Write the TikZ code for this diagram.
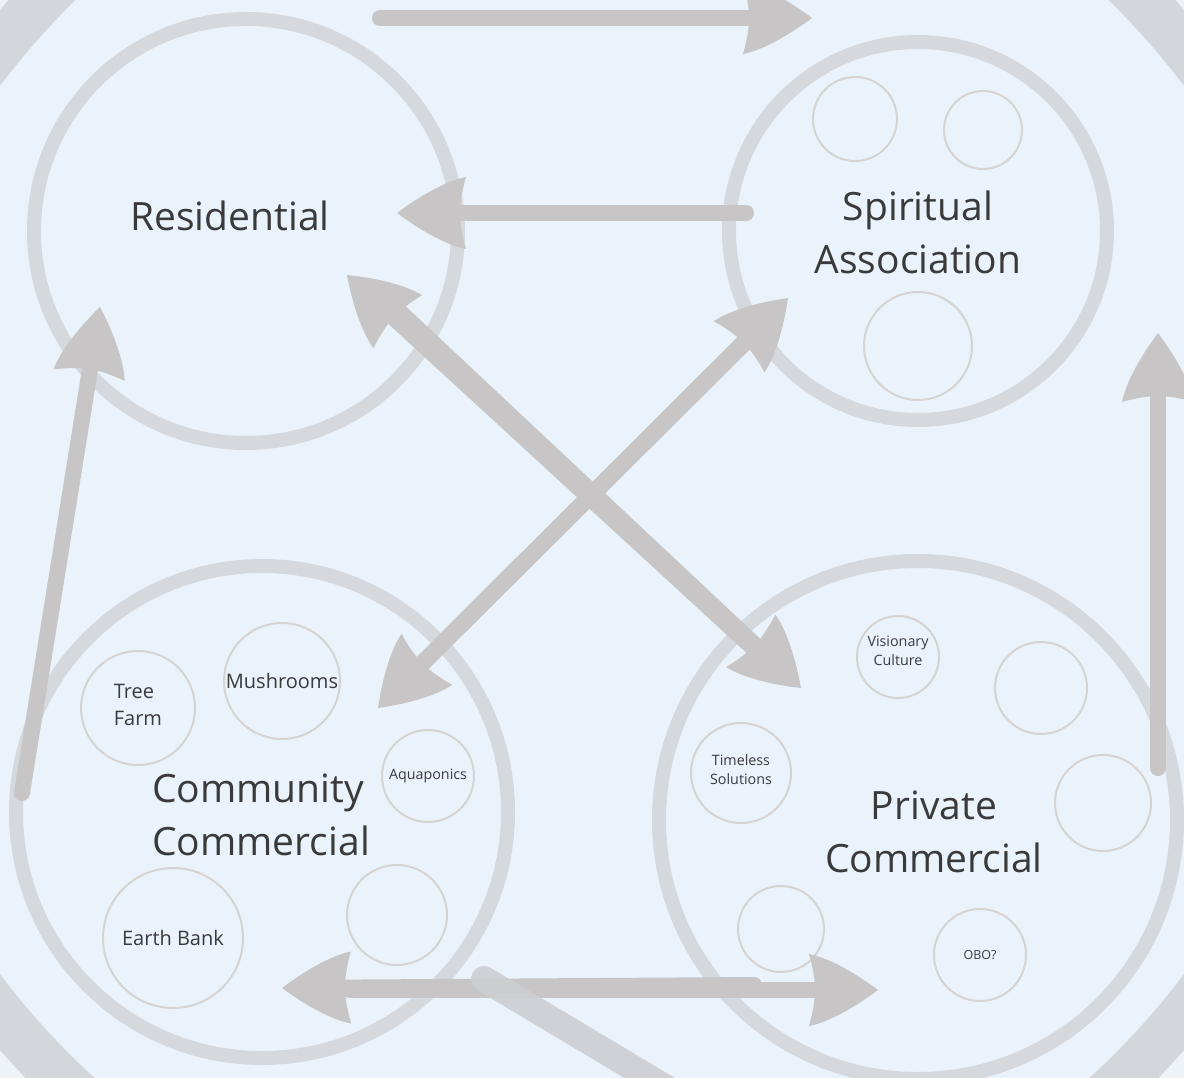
\documentclass[tikz,border=0pt]{standalone}
\usepackage{fontspec}
\setmainfont{Open Sans}
\usetikzlibrary{arrows.meta}
\definecolor{bgblue}{HTML}{EAF3FC}
\definecolor{corner}{HTML}{EEF3F8}
\definecolor{ringgray}{HTML}{D5D8DD}
\definecolor{bandgray}{HTML}{D3D6DB}
\definecolor{bargray}{HTML}{CDCED2}
\definecolor{arrgray}{HTML}{C7C5C5}
\definecolor{smallgray}{HTML}{D6D3D3}
\definecolor{txtgray}{HTML}{3A3A3A}
\pgfdeclarearrow{
  name = BigHead,
  setup code = {
    \pgfarrowssettipend{0pt}
    \pgfarrowssetlineend{-56pt}
    \pgfarrowssetbackend{-70pt}
    \pgfarrowssetvisualbackend{-62pt}
    \pgfarrowshullpoint{0pt}{0pt}
    \pgfarrowsupperhullpoint{-70pt}{36pt}
  },
  drawing code = {
    \pgfpathmoveto{\pgfqpoint{0pt}{0pt}}
    \pgfpathcurveto{\pgfqpoint{-20pt}{15pt}}{\pgfqpoint{-48pt}{32pt}}{\pgfqpoint{-69pt}{36pt}}
    \pgfpathcurveto{\pgfqpoint{-65pt}{22pt}}{\pgfqpoint{-63pt}{10pt}}{\pgfqpoint{-63pt}{0pt}}
    \pgfpathcurveto{\pgfqpoint{-63pt}{-10pt}}{\pgfqpoint{-65pt}{-22pt}}{\pgfqpoint{-69pt}{-36pt}}
    \pgfpathcurveto{\pgfqpoint{-48pt}{-32pt}}{\pgfqpoint{-20pt}{-15pt}}{\pgfqpoint{0pt}{0pt}}
    \pgfpathclose
    \pgfusepathqfill
  }
}
\begin{document}
\begin{tikzpicture}[x=1pt,y=-1pt,
  bigcirc/.style={circle, draw=ringgray, line width=14pt, inner sep=0pt, minimum size=#1},
  smallcirc/.style={circle, draw=smallgray, line width=2pt, inner sep=0pt, minimum size=#1,
                    text=txtgray, align=center},
  bigtext/.style={text=txtgray, font=\fontsize{39}{53}\selectfont, inner sep=0pt},
  labeltext/.style={text=txtgray, inner sep=0pt},
  midtext/.style={font=\fontsize{20}{27}\selectfont},
  smalltext/.style={font=\fontsize{14.3}{19}\selectfont},
  conn/.style={draw=arrgray, line width=16pt, line cap=round, -{BigHead}},
  bar/.style={draw=bargray, line width=26pt, line cap=round, opacity=0.9}
]
\useasboundingbox (0,0) rectangle (1184,1078);
\clip (0,0) rectangle (1184,1078);
% background
\fill[corner] (0,0) rectangle (1184,1078);
\fill[bgblue] (592,530) circle[radius=785];
\draw[bandgray, line width=48pt] (592,530) circle[radius=764];

% big circles
\node[bigcirc=424pt] (res) at (246,231) {};
\node[bigcirc=378pt] (spi) at (918,231) {};
\node[bigcirc=492pt] (com) at (262,812) {};
\node[bigcirc=518pt] (pri) at (918,820) {};

% big labels
\node[bigtext] (resT) at (230,216) {Residential};
\node[bigtext, align=center] (spiT) at (918,232) {Spiritual\\Association};
\node[bigtext, align=left, anchor=west] (comT) at (152,815) {Community\\Commercial};
\node[bigtext, align=center] (priT) at (934,832) {Private\\Commercial};

% small circles - spiritual
\node[smallcirc=84pt] (s1) at (855,119) {};
\node[smallcirc=78pt] (s2) at (983,130) {};
\node[smallcirc=108pt] (s3) at (918,346) {};

% small circles - community
\node[smallcirc=114pt] (tree) at (138,708) {};
\node[labeltext, midtext, align=left] (treeT) at (138,705) {Tree\\Farm};
\node[smallcirc=116pt, midtext] (mush) at (282,681) {Mushrooms};
\node[smallcirc=92pt, smalltext] (aqua) at (428,776) {Aquaponics};
\node[smallcirc=100pt] (c4) at (397,915) {};
\node[smallcirc=140pt, midtext] (earth) at (173,938) {Earth Bank};

% small circles - private
\node[smallcirc=82pt] (vis) at (898,657) {};
\node[labeltext, smalltext, align=center] (visT) at (898,651) {Visionary\\Culture};
\node[smallcirc=92pt] (p2) at (1041,688) {};
\node[smallcirc=100pt] (time) at (741,773) {};
\node[labeltext, smalltext, align=center] (timeT) at (741,770) {Timeless\\Solutions};
\node[smallcirc=96pt] (p4) at (1103,803) {};
\node[smallcirc=86pt] (p5) at (781,929) {};
\node[smallcirc=92pt, font=\fontsize{12.5}{14}\selectfont] (obo) at (980,955) {OBO?};

% arrow end points
\coordinate (aS) at (380,18);   \coordinate (aT) at (812,18);
\coordinate (bS) at (746,213);  \coordinate (bT) at (397,213);
\coordinate (cS) at (22,793);   \coordinate (cT) at (100,307);
\coordinate (dS) at (1158,768); \coordinate (dT) at (1158,333);
\coordinate (e1S) at (766,660); \coordinate (e1T) at (347,275);
\coordinate (e2S) at (398,310); \coordinate (e2T) at (801,688);
\coordinate (f1S) at (751,337); \coordinate (f1T) at (378,708);
\coordinate (f2S) at (405,680); \coordinate (f2T) at (788,298);
\coordinate (g1S) at (754,985); \coordinate (g1T) at (282,988);
\coordinate (g2S) at (350,990); \coordinate (g2T) at (878,990);
\coordinate (hS) at (484,979);  \coordinate (hT) at (720,1120);

% arrows
\draw[conn] (aS) -- (aT);
\draw[conn] (bS) -- (bT);
\draw[conn] (cS) -- (cT);
\draw[conn] (dS) -- (dT);
\draw[conn] (e2S) -- (e2T);
\draw[conn] (e1S) -- (e1T);
\draw[conn] (f2S) -- (f2T);
\draw[conn] (f1S) -- (f1T);
\draw[conn] (g1S) -- (g1T);
\draw[conn] (g2S) -- (g2T);
\draw[bar] (hS) -- (hT);
\end{tikzpicture}
\end{document}
